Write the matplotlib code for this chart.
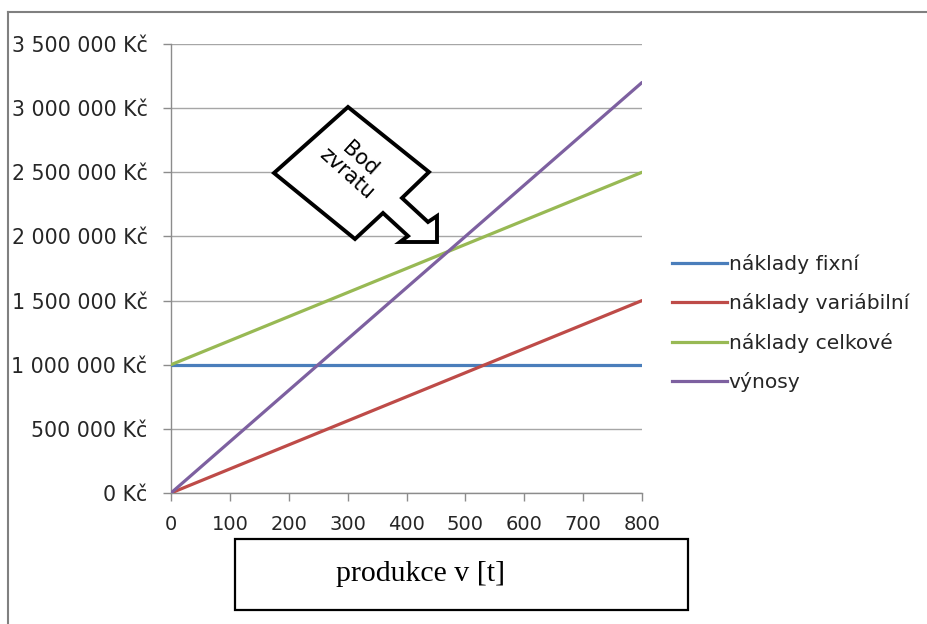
import matplotlib
matplotlib.use('Agg')
import matplotlib.pyplot as plt
import matplotlib.patches as mpatches
from matplotlib.lines import Line2D
from matplotlib.ticker import FuncFormatter

# produkce v tunách a náklady / výnosy v Kč
produkce = [0, 100, 200, 300, 400, 500, 600, 700, 800]
naklady_fixni = [1000000, 1000000, 1000000, 1000000, 1000000, 1000000, 1000000, 1000000, 1000000]
naklady_variabilni = [0, 187500, 375000, 562500, 750000, 937500, 1125000, 1312500, 1500000]
naklady_celkove = [1000000, 1187500, 1375000, 1562500, 1750000, 1937500, 2125000, 2312500, 2500000]
vynosy = [0, 400000, 800000, 1200000, 1600000, 2000000, 2400000, 2800000, 3200000]

nazvy = ['náklady fixní', 'náklady variábilní', 'náklady celkové', 'výnosy']
barvy = ['#4A7EBB', '#BE4B48', '#98B954', '#7D60A0']
y_ticks = [0, 500000, 1000000, 1500000, 2000000, 2500000, 3000000, 3500000]

W, H = 927, 624


def px(x, y):
    # pixely (odshora) -> souřadnice obrázku
    return x / W, 1 - y / H


fig = plt.figure(figsize=(W / 100, H / 100), dpi=100)
ax = fig.add_axes([171 / W, 1 - 493 / H, (642 - 171) / W, (493 - 44) / H])

for rada, barva in zip([naklady_fixni, naklady_variabilni, naklady_celkove, vynosy], barvy):
    ax.plot(produkce, rada, color=barva, lw=2.3, solid_capstyle='round', zorder=3)

ax.set_xlim(0, 800)
ax.set_ylim(0, 3500000)
ax.set_xticks(produkce)
ax.set_yticks(y_ticks)
ax.yaxis.set_major_formatter(FuncFormatter(lambda v, p: f"{int(v):,} Kč".replace(',', ' ')))
ax.grid(axis='y', color='#A6A6A6', lw=1)
ax.set_axisbelow(True)
for s in ['top', 'right']:
    ax.spines[s].set_visible(False)
for s in ['left', 'bottom']:
    ax.spines[s].set_color('#8C8C8C')
    ax.spines[s].set_linewidth(1)
ax.tick_params(axis='y', length=6, width=1, color='#8C8C8C', pad=11, labelsize=14.8, labelcolor='#262626')
ax.tick_params(axis='x', length=6, width=1, color='#8C8C8C', pad=10, labelsize=14, labelcolor='#262626')

# legenda
handles = [Line2D([0], [0], color=c, lw=2.3) for c in barvy]
fig.legend(handles, nazvy, loc='center left', bbox_to_anchor=px(672, 323),
           frameon=False, fontsize=14.6, handlelength=2.7, handletextpad=0.1,
           labelspacing=0.95, borderpad=0, borderaxespad=0, labelcolor='#262626')

# šipka "Bod zvratu"
sipka = [(348, 107), (274, 173), (355, 239), (383, 213), (408, 236), (400, 242),
         (437, 242), (437, 216), (428, 222), (402, 198), (429, 172)]
fig.patches.append(mpatches.Polygon([px(x, y) for x, y in sipka], closed=True,
                                    transform=fig.transFigure, facecolor='white',
                                    edgecolor='black', lw=2.8, joinstyle='miter', zorder=5))
fig.text(*px(353, 166), 'Bod\nzvratu', rotation=-42, rotation_mode='anchor',
         ha='center', va='center', fontsize=15, linespacing=1.0, zorder=6)

# popisek osy x v rámečku
x0, y0 = px(235, 610)
fig.patches.append(mpatches.Rectangle((x0, y0), (688 - 235) / W, (610 - 539) / H,
                                      transform=fig.transFigure, facecolor='white',
                                      edgecolor='black', lw=1.6))
fig.text(*px(421, 574), 'produkce v [t]', family='Liberation Serif', fontsize=21.5,
         ha='center', va='center')

# okraj
fig.add_artist(Line2D([8 / W, 1], [1 - 12 / H, 1 - 12 / H], color='#808080', lw=1.5,
                      transform=fig.transFigure))
fig.add_artist(Line2D([8 / W, 8 / W], [0, 1 - 12 / H], color='#808080', lw=1.5,
                      transform=fig.transFigure))

fig.savefig('out.png', dpi=100)
